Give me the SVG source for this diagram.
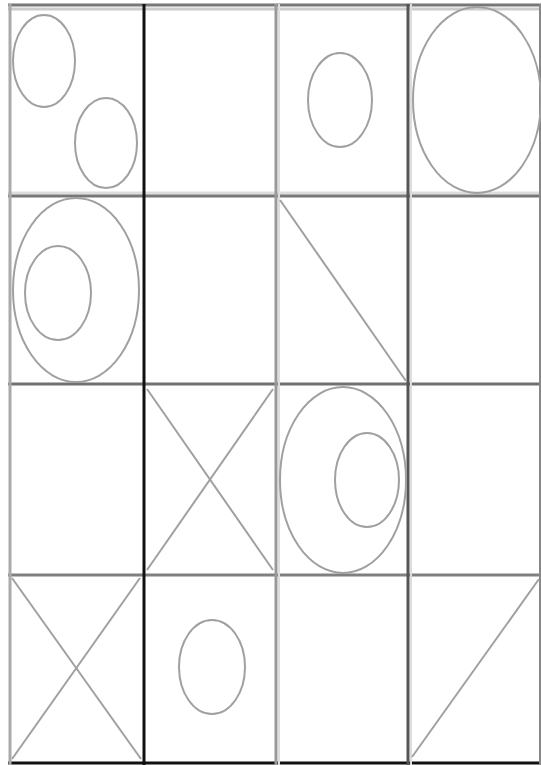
<svg xmlns="http://www.w3.org/2000/svg" width="541" height="765" viewBox="0 0 541 765">
<style>
.s{fill:none;stroke:#a0a0a0;stroke-width:2}
.g{stroke-width:3;fill:none}
</style>
<rect width="541" height="765" fill="#ffffff"/>
<g id="grid">
<line class="g" x1="8" y1="5" x2="541" y2="5" stroke="#777"/>
<line class="g" x1="8" y1="9" x2="541" y2="9" stroke="#ccc" stroke-width="2"/>
<line class="g" x1="8" y1="193" x2="541" y2="193" stroke="#ddd" stroke-width="2"/>
<line class="g" x1="8" y1="196" x2="541" y2="196" stroke="#777"/>
<line class="g" x1="8" y1="384" x2="541" y2="384" stroke="#707070"/>
<line class="g" x1="8" y1="575" x2="541" y2="575" stroke="#808080"/>
<line class="g" x1="8" y1="763" x2="541" y2="763" stroke="#111"/>
<line class="g" x1="10" y1="4" x2="10" y2="765" stroke="#aaa"/>
<line class="g" x1="144" y1="4" x2="144" y2="765" stroke="#111"/>
<line class="g" x1="276" y1="4" x2="276" y2="765" stroke="#999"/>
<line x1="279" y1="4" x2="279" y2="765" stroke="#ddd" stroke-width="2"/>
<line class="g" x1="408" y1="4" x2="408" y2="765" stroke="#555"/>
<line x1="411" y1="4" x2="411" y2="765" stroke="#ddd" stroke-width="2"/>
<line x1="540" y1="4" x2="540" y2="765" stroke="#888" stroke-width="2"/>
</g>
<g id="c00"><ellipse class="s" cx="44" cy="61" rx="31" ry="46"/><ellipse class="s" cx="106" cy="143" rx="31" ry="45"/></g>
<g id="c02"><ellipse class="s" cx="340" cy="100" rx="32" ry="47"/></g>
<g id="c03"><ellipse class="s" cx="477" cy="100" rx="64" ry="93"/></g>
<g id="c10"><ellipse class="s" cx="76" cy="290" rx="63" ry="92"/><ellipse class="s" cx="58" cy="293" rx="33" ry="47"/></g>
<g id="c12"><line class="s" x1="280" y1="200" x2="406" y2="381"/></g>
<g id="c21"><line class="s" x1="147" y1="389" x2="273" y2="570"/><line class="s" x1="273" y1="389" x2="147" y2="570"/></g>
<g id="c22"><ellipse class="s" cx="343" cy="480" rx="63" ry="93"/><ellipse class="s" cx="367" cy="480" rx="32" ry="47"/></g>
<g id="c30"><line class="s" x1="12" y1="578" x2="141" y2="759"/><line class="s" x1="140" y1="578" x2="12" y2="759"/></g>
<g id="c31"><ellipse class="s" cx="212" cy="667" rx="33" ry="47"/></g>
<g id="c33"><line class="s" x1="539" y1="579" x2="412" y2="757"/></g>
</svg>
